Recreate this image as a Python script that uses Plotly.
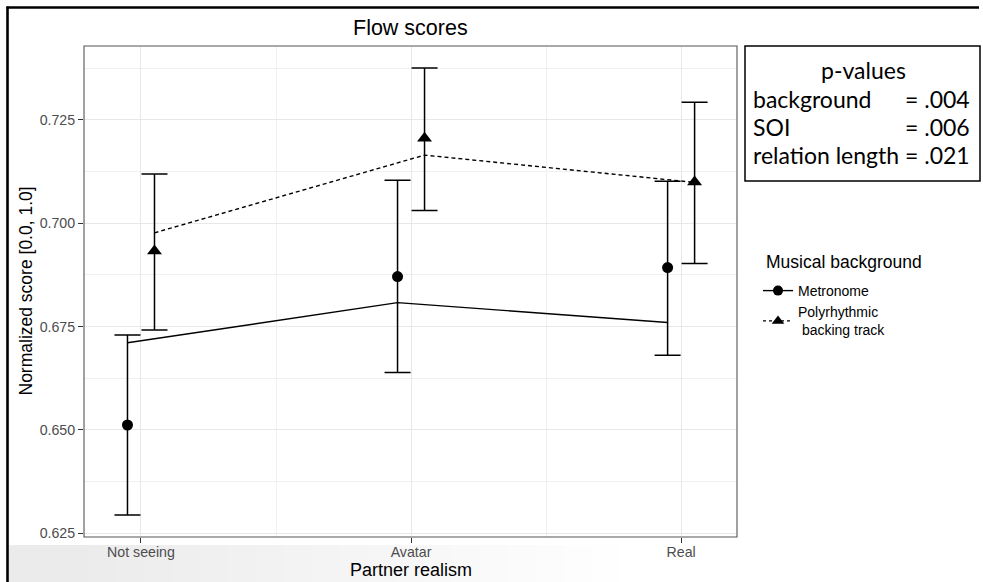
import plotly.graph_objects as go

# Partner realism conditions (x axis)
categories = ["Not seeing", "Avatar", "Real"]

# Metronome group: observed means with interval bounds, and fitted values
metronome_mean = [0.6512, 0.6871, 0.6893]
metronome_upper = [0.6730, 0.7104, 0.7102]
metronome_lower = [0.6294, 0.6639, 0.6681]
metronome_fit = [0.6711, 0.6808, 0.6760]

# Polyrhythmic backing track group
poly_mean = [0.6933, 0.7206, 0.7100]
poly_upper = [0.7119, 0.7376, 0.7293]
poly_lower = [0.6742, 0.7031, 0.6903]
poly_fit = [0.6977, 0.7165, 0.7099]

y_ticks = [0.625, 0.650, 0.675, 0.700, 0.725]
y_minor = [0.6375, 0.6625, 0.6875, 0.7125, 0.7375]

p_labels = ["background", "SOI", "relation length"]
p_values = ["= .004", "= .006", "= .021"]

# ---- layout geometry (pixels) ----
W_FIG, H_FIG = 983, 582
L, R, T, B = 84, 737, 46, 537
PW, PH = R - L, B - T
DODGE = 0.05

FONT = "Liberation Sans, Arial, Helvetica, sans-serif"
BOX_FONT = "Lato, Open Sans, sans-serif"


def px(xp):
    return (xp - L) / PW


def py(yp):
    return (B - yp) / PH


idx = list(range(len(categories)))
x_met = [i - DODGE for i in idx]
x_poly = [i + DODGE for i in idx]

fig = go.Figure()

# fitted lines
fig.add_trace(go.Scatter(
    x=x_met, y=metronome_fit, mode="lines",
    line=dict(color="black", width=1.4), showlegend=False, hoverinfo="skip"))
fig.add_trace(go.Scatter(
    x=x_poly, y=poly_fit, mode="lines",
    line=dict(color="black", width=1.4, dash="4px,3px"),
    showlegend=False, hoverinfo="skip"))

# observed means with intervals
fig.add_trace(go.Scatter(
    x=x_met, y=metronome_mean, mode="markers",
    marker=dict(symbol="circle", size=11, color="black"),
    error_y=dict(type="data", symmetric=False,
                 array=[u - m for u, m in zip(metronome_upper, metronome_mean)],
                 arrayminus=[m - lo for m, lo in zip(metronome_mean, metronome_lower)],
                 color="black", thickness=1.5, width=13),
    showlegend=False))
fig.add_trace(go.Scatter(
    x=x_poly, y=poly_mean, mode="markers",
    marker=dict(symbol="triangle-up", size=13, color="black"),
    error_y=dict(type="data", symmetric=False,
                 array=[u - m for u, m in zip(poly_upper, poly_mean)],
                 arrayminus=[m - lo for m, lo in zip(poly_mean, poly_lower)],
                 color="black", thickness=1.5, width=13),
    showlegend=False))

# legend keys
fig.add_trace(go.Scatter(
    x=[None], y=[None], mode="lines+markers", name="Metronome",
    line=dict(color="black", width=1.4),
    marker=dict(symbol="circle", size=10, color="black")))
fig.add_trace(go.Scatter(
    x=[None], y=[None], mode="lines+markers", name="Polyrhythmic<br> backing track",
    line=dict(color="black", width=1.4, dash="3px,3px"),
    marker=dict(symbol="triangle-up", size=11, color="black")))

shapes = []

# soft grey band along the bottom edge, fading to the right
n_steps = 20
for k in range(n_steps):
    xe = 620 - k * 28
    shapes.append(dict(type="rect", xref="paper", yref="paper",
                       x0=px(9), x1=px(xe), y0=py(545), y1=py(590),
                       fillcolor="rgba(0,0,0,0.003)", line=dict(width=0),
                       layer="below"))

# panel border
shapes.append(dict(type="rect", xref="paper", yref="paper", x0=0, x1=1, y0=0, y1=1,
                   line=dict(color="#555555", width=1.1)))

# outer frame (left and top)
shapes.append(dict(type="line", xref="paper", yref="paper",
                   x0=px(7.5), x1=px(7.5), y0=py(6.5), y1=py(590),
                   line=dict(color="black", width=2.6)))
shapes.append(dict(type="line", xref="paper", yref="paper",
                   x0=px(6.5), x1=px(979), y0=py(7.5), y1=py(7.5),
                   line=dict(color="black", width=2.6)))

# p-values box
shapes.append(dict(type="rect", xref="paper", yref="paper",
                   x0=px(745), x1=px(980), y0=py(181), y1=py(46),
                   line=dict(color="black", width=1.5), fillcolor="white"))

annotations = [
    dict(text="Flow scores", x=px((L + R) / 2), y=py(28), xref="paper", yref="paper",
         showarrow=False, font=dict(family=FONT, size=21.5, color="black"),
         xanchor="center", yanchor="middle"),
    dict(text="Partner realism", x=px((L + R) / 2), y=py(570), xref="paper", yref="paper",
         showarrow=False, font=dict(family=FONT, size=18, color="black"),
         xanchor="center", yanchor="middle"),
    dict(text="Normalized score [0.0, 1.0]", x=px(25), y=py((T + B) / 2),
         xref="paper", yref="paper", textangle=-90,
         showarrow=False, font=dict(family=FONT, size=17.5, color="black"),
         xanchor="center", yanchor="middle"),
    dict(text="Musical background", x=px(764), y=py(262), xref="paper", yref="paper",
         showarrow=False, font=dict(family=FONT, size=17.5, color="black"),
         xanchor="left", yanchor="middle"),
    dict(text="p-values", x=px(863), y=py(70), xref="paper", yref="paper",
         showarrow=False, font=dict(family=BOX_FONT, size=23, color="black"),
         xanchor="center", yanchor="middle"),
]

row_y = [99, 127, 155]
for lab, val, yy in zip(p_labels, p_values, row_y):
    annotations.append(dict(text=lab, x=px(751), y=py(yy), xref="paper", yref="paper",
                            showarrow=False, font=dict(family=BOX_FONT, size=23, color="black"),
                            xanchor="left", yanchor="middle"))
    annotations.append(dict(text=val, x=px(972), y=py(yy), xref="paper", yref="paper",
                            showarrow=False, font=dict(family=BOX_FONT, size=23, color="black"),
                            xanchor="right", yanchor="middle"))

fig.update_layout(
    width=W_FIG, height=H_FIG,
    margin=dict(l=L, r=W_FIG - R, t=T, b=H_FIG - B, autoexpand=False),
    paper_bgcolor="white", plot_bgcolor="white",
    font=dict(family=FONT, color="#4d4d4d"),
    shapes=shapes, annotations=annotations,
    legend=dict(
        font=dict(family=FONT, size=14, color="black"),
        x=px(758), y=py(275), xanchor="left", yanchor="top",
        bgcolor="rgba(0,0,0,0)", borderwidth=0, tracegroupgap=0),
    xaxis=dict(
        range=[-0.211, 2.207], tickmode="array", tickvals=idx, ticktext=categories,
        showgrid=True, gridcolor="#e8e8e8", gridwidth=1.2, zeroline=False,
        ticks="outside", ticklen=5, tickcolor="#333333", tickwidth=1.1,
        ticklabelstandoff=-3,
        tickfont=dict(family=FONT, size=14.2, color="#4d4d4d"),
        minor=dict(tickmode="array", tickvals=[0.5, 1.5], showgrid=True,
                   gridcolor="#f0f0f0", gridwidth=1),
        showline=False, fixedrange=True),
    yaxis=dict(
        range=[0.6241, 0.7429], tickmode="array", tickvals=y_ticks,
        ticktext=[f"{v:.3f}" for v in y_ticks],
        showgrid=True, gridcolor="#e8e8e8", gridwidth=1.2, zeroline=False,
        ticks="outside", ticklen=5, tickcolor="#333333", tickwidth=1.1,
        tickfont=dict(family=FONT, size=14.2, color="#4d4d4d"),
        minor=dict(tickmode="array", tickvals=y_minor, showgrid=True,
                   gridcolor="#f0f0f0", gridwidth=1),
        showline=False, fixedrange=True),
)

fig.write_html("out.html")
